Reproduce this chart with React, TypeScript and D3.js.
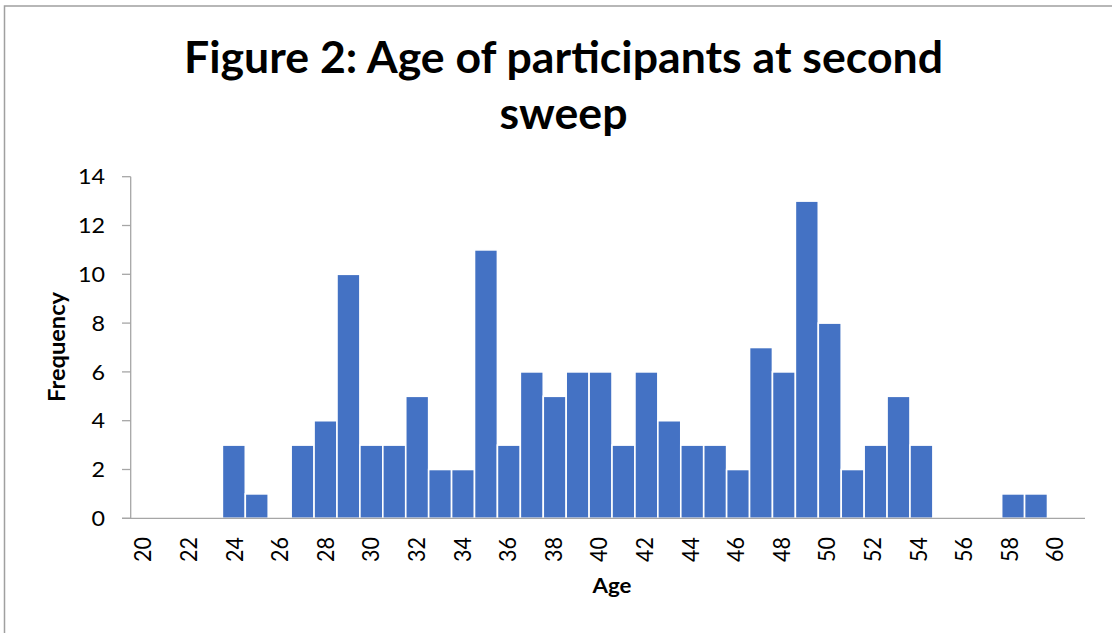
import React from "react";
import * as d3 from "d3";

const ages: number[] = [20,21,22,23,24,25,26,27,28,29,30,31,32,33,34,35,36,37,38,39,40,41,42,43,44,45,46,47,48,49,50,51,52,53,54,55,56,57,58,59,60];
const frequency: number[] = [0,0,0,0,3,1,0,3,4,10,3,3,5,2,2,11,3,6,5,6,6,3,6,4,3,3,2,7,6,13,8,2,3,5,3,0,0,0,1,1,0];
const yTicks: number[] = [0,2,4,6,8,10,12,14];
const xTickLabels: number[] = [20,22,24,26,28,30,32,34,36,38,40,42,44,46,48,50,52,54,56,58,60];
const titleLines: string[] = ["Figure 2: Age of participants at second", "sweep"];

const W = 1112, H = 633;
const FONT = "Lato, 'Open Sans', sans-serif";
const SX = 1.086;

export default function App() {
  const x = d3.scaleBand<number>().domain(ages).range([130.7, 130.7 + 41 * 22.92]).paddingInner(0).paddingOuter(0);
  const xLab = d3.scaleLinear().domain([20, 60]).range([143, 1055]);
  const y = d3.scaleLinear().domain([0, 14]).range([518.3, 176.7]);
  const axisColor = "#a6a6a6";
  return (
    <svg width={W} height={H} style={{ position: "absolute", left: 0, top: 0, background: "#fff" }}>
      <rect x={0} y={0} width={W} height={H} fill="#fff" />
      <rect x={4.5} y={6} width={W + 20} height={H + 20} fill="none" stroke="#a0a0a0" strokeWidth={1.5} />
      {titleLines.map((t, i) => (
        <text key={i} x={563.5} y={i === 0 ? 73 : 129} textAnchor="middle" fontFamily={FONT} fontWeight={700} fontSize={43} fill="#000"
          textLength={i === 0 ? 759 : 128} lengthAdjust="spacingAndGlyphs">{t}</text>
      ))}
      {ages.map((a, i) => frequency[i] > 0 ? (
        <rect key={a} x={x(a)!} y={y(frequency[i])} width={x.bandwidth()} height={y(0) - y(frequency[i])}
          fill="#4472C4" stroke="#ffffff" strokeWidth={1.6} />
      ) : null)}
      <line x1={130.7} x2={130.7} y1={y(14)} y2={y(0)} stroke={axisColor} strokeWidth={1.3} />
      {yTicks.map(t => (
        <g key={t}>
          <line x1={122} x2={130.7} y1={y(t)} y2={y(t)} stroke={axisColor} strokeWidth={1.3} />
          <text transform={`translate(105,${y(t)}) scale(${SX},1)`} textAnchor="end" dy="0.36em" fontFamily={FONT} fontSize={21.5} fill="#000">{t}</text>
        </g>
      ))}
      <line x1={122} x2={1085} y1={y(0)} y2={y(0)} stroke={axisColor} strokeWidth={1.3} />
      {xTickLabels.map(t => (
        <text key={t} transform={`translate(${xLab(t)},537) scale(${SX},1) rotate(-90)`} textAnchor="end" dy="0.36em"
          fontFamily={FONT} fontSize={21.5} fill="#000">{t}</text>
      ))}
      <text transform={`translate(65,347) scale(${SX},1) rotate(-90)`} textAnchor="middle" fontFamily={FONT} fontWeight={700} fontSize={21}
        fill="#000" textLength={110} lengthAdjust="spacingAndGlyphs">Frequency</text>
      <text x={612} y={593} textAnchor="middle" fontFamily={FONT} fontWeight={700} fontSize={20.5} fill="#000"
        textLength={39} lengthAdjust="spacingAndGlyphs">Age</text>
    </svg>
  );
}
